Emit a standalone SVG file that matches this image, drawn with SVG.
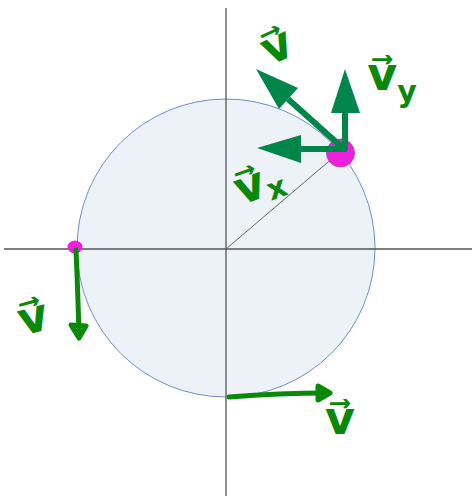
<svg xmlns="http://www.w3.org/2000/svg" width="472" height="496" viewBox="0 0 472 496">
<style>
.axis{stroke:#555;stroke-width:1.3;fill:none}
.vec{fill:#00854a;stroke:none}
.shaft{stroke:#00854a;stroke-width:6;fill:none}
.hand{stroke:#0a880a;stroke-width:5;fill:none;stroke-linecap:round;stroke-linejoin:round}
.lbl{font-family:"DejaVu Sans",sans-serif;font-size:46px;font-weight:bold;fill:#0a880a;text-anchor:middle}
.sub{font-size:30px}
</style>
<rect width="472" height="496" fill="#fff"/>
<g id="circle">
<circle cx="226" cy="248" r="149" fill="#edf1f8" stroke="#6e8fc4" stroke-width="1"/>
</g>
<g id="axes">
<line class="axis" x1="226" y1="8" x2="226" y2="496"/>
<line class="axis" x1="4" y1="249" x2="472" y2="249"/>
<line x1="226" y1="249" x2="341" y2="151" stroke="#555" stroke-width="0.9"/>
</g>
<g id="point-top">
<circle cx="340.5" cy="153" r="14" fill="#ec1fdc" stroke="#b04cc8" stroke-width="1"/>
</g>
<g id="point-left">
<ellipse cx="75" cy="247" rx="7.5" ry="6.5" fill="#ec1fdc"/>
</g>
<g id="connectors">
<line class="shaft" x1="345" y1="150" x2="345" y2="112"/>
<polygon class="vec" points="345,69 331,113 360,113"/>
<line class="shaft" x1="347" y1="149" x2="300" y2="149"/>
<polygon class="vec" points="257,148 301,135 301,163"/>
<line class="shaft" x1="345" y1="150" x2="288" y2="99"/>
<polygon class="vec" points="256,69 298,88 279,109"/>
<path class="hand" d="M76,250 Q78,295 79,336"/>
<path class="hand" d="M71,325 L79,338 L86,326 Z" fill="#0a880a"/>
<path class="hand" d="M229,397 Q280,393 327,393"/>
<path class="hand" d="M318,386 L330,393 L318,400 Z" fill="#0a880a"/>
</g>
<g id="labels">
<text class="lbl" transform="translate(283,60) rotate(-25)">v⃗</text>
<text class="lbl" transform="translate(392,90)">v⃗<tspan class="sub" dy="12">y</tspan></text>
<text class="lbl" transform="translate(264,197) rotate(-20)">v⃗<tspan class="sub" dy="6">x</tspan></text>
<text class="lbl" transform="translate(37,332) rotate(-15)">v⃗</text>
<text class="lbl" transform="translate(340,434)">v⃗</text>
</g>
</svg>
